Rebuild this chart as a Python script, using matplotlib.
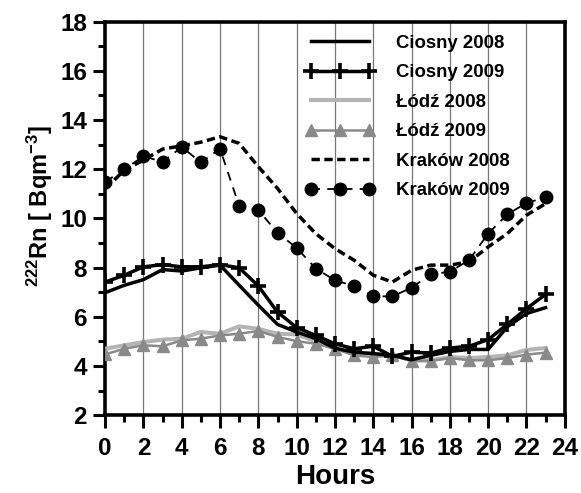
import matplotlib
matplotlib.use("Agg")
import matplotlib.pyplot as plt
import numpy as np
from matplotlib.ticker import MultipleLocator

plt.rcParams["font.family"] = ["Liberation Sans", "DejaVu Sans"]
plt.rcParams["font.weight"] = "bold"
plt.rcParams["mathtext.fontset"] = "custom"
plt.rcParams["mathtext.rm"] = "Liberation Sans:bold"
plt.rcParams["mathtext.bf"] = "Liberation Sans:bold"
plt.rcParams["mathtext.default"] = "bf"

HOURS = np.arange(24)

CIOSNY_2008 = [6.98, 7.28, 7.51, 7.92, 7.86, 7.99, 8.10, 7.28, 6.47, 5.69, 5.38, 5.11,
               4.72, 4.56, 4.50, 4.43, 4.25, 4.43, 4.59, 4.67, 4.67, 5.59, 6.13, 6.37]
CIOSNY_2009 = [7.41, 7.69, 8.03, 8.12, 8.03, 8.03, 8.12, 7.99, 7.25, 6.19, 5.56, 5.24,
               4.90, 4.70, 4.80, 4.39, 4.56, 4.52, 4.73, 4.80, 5.07, 5.69, 6.33, 6.91]
LODZ_2008 = [4.70, 4.84, 4.97, 5.07, 5.11, 5.38, 5.31, 5.61, 5.51, 5.31, 5.28, 5.00,
             4.70, 4.56, 4.50, 4.43, 4.23, 4.23, 4.36, 4.32, 4.36, 4.43, 4.65, 4.73]
LODZ_2009 = [4.47, 4.70, 4.84, 4.80, 5.04, 5.11, 5.24, 5.31, 5.42, 5.18, 5.01, 4.90,
             4.70, 4.43, 4.36, 4.43, 4.20, 4.20, 4.32, 4.23, 4.23, 4.32, 4.46, 4.54]
KRAKOW_2008 = [11.20, 11.96, 12.37, 12.82, 12.95, 13.10, 13.32, 13.05, 12.10, 11.22, 10.20, 9.38,
               8.77, 8.30, 7.69, 7.41, 7.89, 8.10, 8.10, 8.23, 8.84, 9.38, 10.13, 10.60]
KRAKOW_2009 = [11.49, 11.99, 12.53, 12.30, 12.90, 12.28, 12.83, 10.50, 10.33, 9.42, 8.80, 7.96,
               7.48, 7.25, 6.83, 6.83, 7.18, 7.73, 7.83, 8.30, 9.38, 10.16, 10.63, 10.85]

fig = plt.figure(figsize=(5.81, 4.93), dpi=100)
ax = fig.add_axes([0.181, 0.158, 0.791, 0.798])

lw = 2.5
ax.plot(HOURS, CIOSNY_2008, color="black", lw=lw, label="Ciosny 2008", zorder=4)
ax.plot(HOURS, CIOSNY_2009, color="black", lw=lw, marker="+", ms=11, mew=2.6,
        label="Ciosny 2009", zorder=4)
ax.plot(HOURS, LODZ_2008, color="#b4b4b4", lw=lw + 0.4, label="Łódź 2008", zorder=3)
ax.plot(HOURS, LODZ_2009, color="#8a8a8a", lw=1.8, marker="^", ms=8,
        label="Łódź 2009", zorder=3)
ax.plot(HOURS, KRAKOW_2008, color="black", lw=lw, ls=(0, (2.4, 1.3)),
        label="Kraków 2008", zorder=4)
ax.plot(HOURS, KRAKOW_2009, color="black", lw=1.3, ls=(0, (5, 4)), marker="o", ms=9,
        label="Kraków 2009", zorder=4)

ax.set_xlim(0, 24)
ax.set_ylim(2, 18)
ax.xaxis.set_major_locator(MultipleLocator(2))
ax.xaxis.set_minor_locator(MultipleLocator(1))
ax.yaxis.set_major_locator(MultipleLocator(2))
ax.yaxis.set_minor_locator(MultipleLocator(1))

for x in range(2, 24, 2):
    ax.axvline(x, color="#777777", lw=0.9, zorder=1)

ax.tick_params(which="major", direction="out", length=9, width=2.2,
               labelsize=17.5, pad=4, top=False, right=False)
ax.tick_params(axis="x", which="major", pad=7)
ax.tick_params(which="minor", direction="out", length=5, width=2.2,
               top=False, right=False)
for lab in ax.get_xticklabels() + ax.get_yticklabels():
    lab.set_fontweight("bold")
for sp in ax.spines.values():
    sp.set_linewidth(2.6)

ax.set_xlabel("Hours", fontsize=20, fontweight="bold", labelpad=3)
ax.set_ylabel(r"$^{222}$Rn [ Bqm$^{-3}$]", fontsize=17, fontweight="bold")
ax.yaxis.set_label_coords(-0.11, 0.53)

leg = ax.legend(loc="upper left", frameon=False, fontsize=13.4, handlelength=3.76,
                handletextpad=1.15, labelspacing=0.67, borderaxespad=0, borderpad=0,
                numpoints=3, bbox_to_anchor=(0.435, 0.967))
for t in leg.get_texts():
    t.set_fontweight("bold")

fig.savefig("out.png", dpi=100)
